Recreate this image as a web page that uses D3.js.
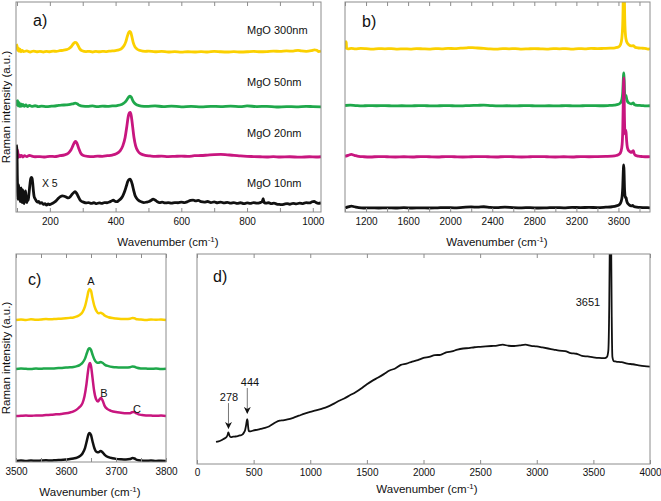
<!DOCTYPE html>
<html><head><meta charset="utf-8">
<script src="https://cdn.jsdelivr.net/npm/d3@7/dist/d3.min.js"></script>
<style>
body{margin:0;background:#fff}
svg{display:block}
text{font-family:Helvetica,Arial,"Liberation Sans",sans-serif;fill:#111}
</style>
</head><body>
<svg id="fig" width="661" height="501"></svg>
<script>
// ---------------- DATA ----------------
const sampleNames = ["MgO 300nm", "MgO 50nm", "MgO 20nm", "MgO 10nm"];
const sampleColors = ["#fbd000", "#1fa84b", "#c8167f", "#111111"];

// panel a: low-wavenumber spectra (cm-1, intensity a.u. above each trace's baseline)
const offsetsA = [7.6, 5.0, 2.6, 0.35];
const a300 = [[98,0.4],[100,0.3],[102,0.1],[104,0.22],[106,0.05],[109,0.15],[112,0.03],[116,0.1],[120,0.04],[130,0.07],[140,0.02],[150,0.06],[160,0.03],[170,0.05],[180,0.02],[190,0.05],[200,0.03],[210,0.06],[220,0.05],[230,0.08],[240,0.1],[250,0.13],[258,0.18],[265,0.27],[271,0.4],[276,0.48],[280,0.47],[285,0.35],[291,0.17],[298,0.08],[310,0.04],[320,0.05],[330,0.02],[340,0.05],[350,0.03],[360,0.05],[370,0.04],[380,0.06],[390,0.07],[400,0.09],[410,0.12],[418,0.18],[425,0.3],[431,0.5],[436,0.78],[440,0.95],[443,1.0],[446,0.95],[450,0.72],[454,0.45],[459,0.26],[466,0.15],[475,0.09],[490,0.05],[500,0.06],[520,0.03],[540,0.05],[560,0.02],[580,0.04],[600,0.01],[620,0.03],[640,0.02],[660,0.04],[680,0.02],[700,0.05],[720,0.03],[740,0.02],[760,0.04],[780,0.02],[800,0.03],[820,0.05],[840,0.03],[860,0.04],[880,0.06],[900,0.05],[920,0.07],[940,0.06],[955,0.1],[965,0.07],[980,0.05],[995,0.08],[1005,0.12],[1012,0.1],[1018,0.04],[1025,0.06]];
const a50 = [[98,0.35],[100,0.1],[102,0.3],[104,0.05],[106,0.22],[109,0.02],[112,0.15],[115,0.04],[118,0.12],[122,0.03],[127,0.1],[132,0.02],[138,0.08],[145,0.03],[155,0.06],[165,0.02],[175,0.04],[190,0.02],[205,0.04],[220,0.06],[235,0.09],[250,0.1],[262,0.12],[270,0.15],[277,0.18],[283,0.15],[290,0.08],[300,0.04],[315,0.03],[330,0.05],[345,0.02],[360,0.04],[375,0.03],[390,0.05],[405,0.07],[418,0.12],[428,0.22],[435,0.36],[440,0.48],[444,0.52],[448,0.46],[452,0.32],[458,0.18],[466,0.09],[478,0.04],[495,0.03],[520,0.05],[545,0.02],[570,0.04],[600,0.01],[630,0.03],[660,0.01],[690,0.03],[720,0.02],[750,0.04],[780,0.02],[800,0.05],[830,0.02],[860,0.03],[890,0.0],[920,0.02],[950,0.01],[980,0.03],[1000,0.02],[1025,0.01]];
const a20 = [[98,0.05],[100,0.25],[102,0.35],[104,0.0],[107,0.12],[110,0.03],[114,0.1],[118,0.02],[123,0.08],[130,0.04],[138,0.1],[145,0.06],[155,0.03],[170,0.04],[185,0.02],[200,0.05],[215,0.04],[230,0.08],[245,0.12],[256,0.2],[264,0.35],[270,0.55],[275,0.72],[279,0.76],[283,0.65],[288,0.42],[294,0.2],[302,0.09],[315,0.05],[330,0.04],[345,0.06],[360,0.05],[375,0.08],[390,0.11],[402,0.17],[413,0.3],[422,0.55],[429,0.95],[434,1.45],[438,1.9],[442,2.12],[445,2.14],[448,1.95],[452,1.45],[456,0.95],[461,0.55],[468,0.3],[478,0.16],[490,0.1],[505,0.07],[520,0.05],[540,0.06],[560,0.04],[580,0.05],[600,0.06],[620,0.05],[640,0.08],[660,0.09],[680,0.11],[700,0.13],[720,0.14],[740,0.12],[760,0.1],[780,0.07],[800,0.05],[820,0.04],[840,0.03],[860,0.02],[880,0.04],[900,0.02],[930,0.03],[960,0.01],[990,0.03],[1010,0.02],[1025,0.03]];
const a10 = [[98,2.85],[100,2.5],[101,1.4],[102,0.6],[103,0.25],[104,0.7],[105,0.95],[106,0.5],[108,0.8],[109,0.3],[110,0.15],[112,0.6],[113,0.8],[114,0.25],[116,0.1],[117,0.55],[118,0.7],[120,0.2],[122,0.05],[124,0.4],[126,0.65],[128,0.3],[130,0.1],[132,0.35],[134,0.2],[136,0.45],[138,0.75],[140,1.05],[142,1.25],[144,1.3],[146,1.25],[148,1.0],[150,0.65],[152,0.4],[155,0.28],[158,0.2],[162,0.12],[166,0.15],[170,0.06],[175,0.1],[180,0.02],[185,0.05],[190,-0.02],[195,0.03],[200,0.0],[205,0.04],[210,0.08],[215,0.13],[220,0.2],[226,0.3],[232,0.38],[238,0.42],[244,0.4],[250,0.36],[256,0.32],[262,0.38],[268,0.5],[273,0.58],[277,0.62],[281,0.55],[286,0.4],[291,0.25],[296,0.16],[302,0.12],[310,0.08],[318,0.1],[326,0.06],[334,0.09],[342,0.05],[350,0.08],[358,0.06],[366,0.1],[374,0.09],[382,0.13],[388,0.18],[393,0.22],[398,0.16],[404,0.14],[410,0.2],[416,0.28],[422,0.42],[428,0.65],[433,0.9],[437,1.1],[441,1.2],[444,1.22],[447,1.15],[451,0.95],[455,0.68],[459,0.45],[464,0.3],[470,0.2],[478,0.14],[486,0.1],[494,0.12],[502,0.15],[508,0.2],[514,0.26],[520,0.22],[526,0.15],[534,0.1],[542,0.12],[550,0.08],[560,0.1],[570,0.07],[580,0.1],[590,0.09],[600,0.12],[610,0.1],[620,0.15],[628,0.2],[636,0.22],[644,0.18],[652,0.2],[660,0.14],[670,0.12],[680,0.15],[690,0.1],[700,0.13],[710,0.09],[720,0.12],[730,0.08],[740,0.11],[750,0.07],[760,0.1],[770,0.06],[780,0.09],[790,0.05],[800,0.08],[810,0.06],[820,0.1],[830,0.07],[840,0.1],[846,0.14],[849,0.28],[852,0.1],[858,0.07],[866,0.09],[874,0.05],[882,0.07],[890,0.03],[898,0.01],[906,0.0],[914,0.03],[922,0.05],[930,0.02],[940,0.06],[950,0.04],[960,0.07],[970,0.05],[980,0.1],[990,0.08],[998,0.14],[1004,0.16],[1010,0.1],[1016,0.06],[1025,0.08]];

// panel b: full range spectra
const offsetsB = [7.76, 5.05, 2.62, 0.19];
const b300 = [[1000,0.02],[1006,0.05],[1009,0.35],[1012,0.3],[1015,0.04],[1030,0.01],[1060,0.03],[1100,0.01],[1150,0.03],[1200,0.02],[1260,0.0],[1320,0.02],[1380,0.01],[1440,0.02],[1500,0.0],[1560,0.01],[1620,0.0],[1680,0.02],[1740,0.01],[1800,0.0],[1860,0.02],[1920,0.01],[1980,0.03],[2040,0.02],[2100,0.04],[2160,0.06],[2210,0.07],[2260,0.05],[2320,0.03],[2380,0.01],[2440,0.0],[2500,0.02],[2560,0.01],[2620,0.02],[2680,0.0],[2740,0.01],[2800,0.02],[2860,0.01],[2920,0.0],[2980,0.02],[3040,0.01],[3100,0.02],[3160,0.0],[3220,0.02],[3280,0.01],[3340,0.03],[3400,0.02],[3460,0.03],[3520,0.04],[3570,0.06],[3600,0.1],[3620,0.22],[3632,0.5],[3640,1.1],[3645,2.3],[3648,5],[3651,8],[3654,5],[3657,2.4],[3662,1.1],[3668,0.6],[3675,0.4],[3685,0.28],[3700,0.2],[3720,0.15],[3740,0.16],[3760,0.08],[3790,0.05],[3820,0.04],[3850,0.03],[3880,0.0],[3900,0.03]];
const b50 = [[1000,0.02],[1050,0.04],[1100,0.02],[1160,0.0],[1220,0.02],[1300,0.01],[1380,0.02],[1460,0.0],[1540,0.01],[1620,0.0],[1700,0.02],[1780,0.01],[1860,0.0],[1940,0.02],[2020,0.01],[2100,0.0],[2180,0.02],[2260,0.03],[2320,0.04],[2380,0.02],[2460,0.0],[2540,0.01],[2620,0.0],[2700,0.02],[2780,0.01],[2860,0.0],[2940,0.01],[3020,0.0],[3100,0.02],[3180,0.0],[3260,0.01],[3340,0.02],[3420,0.01],[3500,0.02],[3560,0.04],[3600,0.08],[3620,0.15],[3632,0.3],[3640,0.6],[3645,1.1],[3648,1.45],[3651,1.57],[3654,1.25],[3658,0.7],[3663,0.45],[3668,0.48],[3672,0.5],[3677,0.35],[3688,0.2],[3700,0.14],[3720,0.1],[3735,0.13],[3742,0.14],[3750,0.07],[3780,0.03],[3820,0.02],[3860,0.0],[3900,0.01]];
const b20 = [[1000,0.03],[1030,0.08],[1060,0.12],[1090,0.08],[1130,0.03],[1180,0.01],[1240,0.0],[1320,0.02],[1400,0.01],[1480,0.0],[1560,0.01],[1640,0.0],[1720,0.02],[1800,0.01],[1880,0.0],[1960,0.02],[2040,0.01],[2120,0.0],[2200,0.01],[2280,0.02],[2360,0.01],[2440,0.0],[2520,0.02],[2600,0.01],[2680,0.0],[2760,0.01],[2840,0.02],[2920,0.01],[3000,0.0],[3080,0.01],[3160,0.0],[3240,0.02],[3320,0.01],[3400,0.02],[3480,0.03],[3540,0.04],[3580,0.07],[3610,0.14],[3625,0.28],[3635,0.6],[3641,1.3],[3645,2.4],[3648,3.4],[3651,3.76],[3654,3.0],[3657,1.9],[3661,1.2],[3665,1.1],[3669,1.28],[3673,1.15],[3678,0.75],[3685,0.45],[3695,0.32],[3710,0.25],[3725,0.22],[3735,0.28],[3742,0.3],[3748,0.18],[3760,0.08],[3790,0.04],[3830,0.02],[3870,0.01],[3900,0.02]];
const b10 = [[1000,0.0],[1030,0.05],[1060,0.09],[1090,0.06],[1130,0.02],[1180,0.0],[1240,0.01],[1320,0.0],[1400,0.01],[1480,0.0],[1560,0.02],[1640,0.0],[1720,0.01],[1800,0.0],[1880,0.01],[1960,0.02],[2040,0.01],[2120,0.03],[2200,0.05],[2260,0.04],[2320,0.06],[2380,0.03],[2440,0.02],[2520,0.04],[2600,0.02],[2680,0.01],[2760,0.02],[2840,0.0],[2920,0.01],[3000,0.02],[3080,0.01],[3160,0.03],[3240,0.02],[3320,0.03],[3400,0.02],[3480,0.04],[3540,0.06],[3580,0.1],[3610,0.17],[3625,0.3],[3635,0.55],[3641,1.0],[3645,1.6],[3648,1.95],[3651,2.05],[3654,1.6],[3657,1.0],[3661,0.65],[3665,0.5],[3669,0.52],[3673,0.48],[3678,0.35],[3688,0.22],[3700,0.16],[3720,0.1],[3735,0.12],[3745,0.08],[3760,0.05],[3800,0.03],[3850,0.02],[3900,0.01]];

// panel c: OH stretching region
const offsetsC = [6.83, 4.47, 2.21, 0.05];
const c300 = [[3500,0.0],[3510,0.02],[3520,0.0],[3530,0.03],[3540,0.01],[3550,0.02],[3560,0.04],[3570,0.03],[3580,0.05],[3590,0.06],[3600,0.08],[3608,0.1],[3615,0.12],[3622,0.17],[3628,0.25],[3633,0.38],[3638,0.65],[3642,1.05],[3645,1.38],[3647,1.49],[3650,1.4],[3653,1.05],[3657,0.65],[3661,0.42],[3665,0.32],[3669,0.34],[3673,0.3],[3678,0.2],[3685,0.13],[3693,0.09],[3700,0.07],[3710,0.05],[3720,0.04],[3728,0.06],[3733,0.09],[3737,0.08],[3742,0.03],[3750,0.02],[3760,0.0],[3770,0.02],[3780,0.01],[3790,0.02],[3800,0.0]];
const c50 = [[3500,0.0],[3510,0.02],[3520,0.01],[3530,0.0],[3540,0.02],[3550,0.01],[3560,0.03],[3570,0.02],[3580,0.04],[3590,0.05],[3600,0.07],[3608,0.08],[3615,0.1],[3622,0.14],[3628,0.2],[3633,0.3],[3638,0.5],[3642,0.78],[3645,0.96],[3647,1.0],[3650,0.92],[3653,0.7],[3657,0.45],[3661,0.32],[3665,0.3],[3669,0.34],[3673,0.3],[3678,0.2],[3685,0.14],[3693,0.1],[3700,0.08],[3710,0.07],[3720,0.07],[3728,0.09],[3733,0.12],[3737,0.11],[3742,0.06],[3750,0.03],[3760,0.02],[3770,0.01],[3780,0.02],[3790,0.0],[3800,0.01]];
const c20 = [[3500,0.0],[3510,0.01],[3520,0.02],[3530,0.01],[3540,0.03],[3550,0.03],[3560,0.05],[3570,0.06],[3580,0.08],[3590,0.1],[3600,0.13],[3608,0.17],[3615,0.22],[3622,0.32],[3628,0.45],[3633,0.62],[3637,0.95],[3641,1.55],[3644,2.15],[3646,2.45],[3648,2.55],[3650,2.4],[3653,1.85],[3656,1.25],[3660,0.82],[3664,0.7],[3667,0.8],[3670,0.87],[3673,0.76],[3677,0.5],[3683,0.33],[3690,0.25],[3700,0.19],[3710,0.16],[3720,0.13],[3727,0.13],[3732,0.18],[3736,0.19],[3740,0.14],[3745,0.08],[3752,0.05],[3760,0.03],[3770,0.02],[3780,0.01],[3790,0.02],[3800,0.0]];
const c10 = [[3500,0.0],[3510,0.02],[3520,0.0],[3530,0.02],[3540,0.01],[3550,0.02],[3560,0.03],[3570,0.02],[3580,0.04],[3590,0.05],[3600,0.07],[3608,0.09],[3615,0.12],[3622,0.16],[3628,0.24],[3633,0.36],[3638,0.62],[3642,1.0],[3645,1.28],[3647,1.35],[3650,1.25],[3653,0.95],[3657,0.6],[3661,0.44],[3665,0.42],[3669,0.48],[3673,0.42],[3678,0.28],[3685,0.18],[3693,0.13],[3700,0.1],[3710,0.08],[3720,0.07],[3728,0.09],[3733,0.14],[3737,0.12],[3742,0.05],[3750,0.02],[3760,0.01],[3770,0.02],[3780,0.0],[3790,0.01],[3800,0.0]];

// panel d: single full-range spectrum (absolute a.u.)
const dSpectrum = [[168,1.05],[190,1.08],[210,1.12],[230,1.18],[250,1.24],[262,1.3],[270,1.38],[276,1.5],[280,1.47],[285,1.38],[292,1.3],[300,1.28],[320,1.3],[340,1.31],[360,1.33],[380,1.36],[400,1.4],[415,1.5],[425,1.62],[432,1.8],[438,2.0],[443,2.14],[447,2.05],[451,1.8],[456,1.6],[462,1.55],[480,1.56],[500,1.6],[530,1.63],[560,1.67],[600,1.72],[640,1.8],[670,1.9],[700,2.0],[730,2.06],[760,2.08],[800,2.12],[850,2.2],[900,2.3],[950,2.4],[1000,2.48],[1050,2.55],[1100,2.63],[1150,2.72],[1200,2.85],[1250,3.0],[1300,3.12],[1350,3.27],[1400,3.42],[1450,3.6],[1500,3.8],[1550,3.97],[1600,4.12],[1650,4.28],[1700,4.45],[1750,4.55],[1800,4.72],[1850,4.78],[1900,4.88],[1950,4.95],[2000,5.05],[2050,5.1],[2100,5.18],[2150,5.2],[2200,5.32],[2250,5.36],[2300,5.45],[2350,5.5],[2400,5.52],[2450,5.56],[2500,5.58],[2550,5.6],[2600,5.62],[2650,5.64],[2700,5.68],[2750,5.63],[2800,5.62],[2850,5.65],[2900,5.68],[2950,5.63],[3000,5.6],[3050,5.55],[3100,5.5],[3150,5.45],[3200,5.4],[3250,5.38],[3300,5.28],[3350,5.25],[3400,5.15],[3450,5.12],[3500,5.08],[3550,5.05],[3600,5.04],[3620,5.1],[3632,5.4],[3640,7.5],[3645,10.5],[3651,11.5],[3657,10.5],[3662,7.0],[3668,5.1],[3680,4.9],[3700,4.88],[3750,4.85],[3800,4.78],[3850,4.75],[3900,4.7],[3950,4.66],[4000,4.64]];

const ticksA = [200, 400, 600, 800, 1000], minorA = d3.range(100, 1001, 100);
const ticksB = [1200, 1600, 2000, 2400, 2800, 3200, 3600], minorB = d3.range(1000, 3901, 200);
const ticksC = [3500, 3600, 3700, 3800], minorC = d3.range(3500, 3801, 50);
const ticksD = d3.range(0, 4001, 500);

// ---------------- DRAW ----------------
const svg = d3.select("#fig");
const frameColor = "#8c8c8c";
let clipId = 0;

function makePanel(box, xDomain, yDomain, minor, major, tickPad) {
  const x = d3.scaleLinear().domain(xDomain).range([box.l, box.r]);
  const y = d3.scaleLinear().domain(yDomain).range([box.b, box.t]);
  const id = "clip" + (clipId++);
  svg.append("clipPath").attr("id", id).append("rect")
    .attr("x", box.l).attr("y", box.t).attr("width", box.r - box.l).attr("height", box.b - box.t);
  const g = svg.append("g");
  const plot = g.append("g").attr("clip-path", `url(#${id})`);
  const bottom = g.append("g").attr("transform", `translate(0,${box.b})`)
    .call(d3.axisBottom(x).tickValues(minor).tickSize(-4).tickPadding(tickPad)
      .tickFormat(d => major.includes(d) ? d : ""));
  const top = g.append("g").attr("transform", `translate(0,${box.t})`)
    .call(d3.axisTop(x).tickValues(minor).tickSize(-4).tickFormat(""));
  [bottom, top].forEach(a => {
    a.select(".domain").remove();
    a.selectAll(".tick line").attr("stroke", frameColor);
    a.selectAll(".tick text").attr("font-size", 10).attr("fill", "#222")
      .style("font-family", "Helvetica, Arial, 'Liberation Sans', sans-serif");
  });
  g.append("rect").attr("x", box.l).attr("y", box.t)
    .attr("width", box.r - box.l).attr("height", box.b - box.t)
    .attr("fill", "none").attr("stroke", frameColor).attr("stroke-width", 1);
  return {x, y, plot, g};
}

function drawTrace(p, data, offset, color, width) {
  const line = d3.line().x(d => p.x(d[0])).y(d => p.y(d[1] + offset)).curve(d3.curveMonotoneX);
  p.plot.append("path").datum(data).attr("d", line)
    .attr("fill", "none").attr("stroke", color).attr("stroke-width", width)
    .attr("stroke-linejoin", "round");
}

function xTitle(cx, cy) {
  const t = svg.append("text").attr("x", cx).attr("y", cy).attr("text-anchor", "middle").attr("font-size", 11.5);
  t.append("tspan").text("Wavenumber (cm");
  t.append("tspan").attr("dy", -4.5).attr("font-size", 8).text("-1");
  t.append("tspan").attr("dy", 4.5).text(")");
}
function yTitle(cx, cy) {
  svg.append("text").attr("transform", `translate(${cx},${cy}) rotate(-90)`)
    .attr("text-anchor", "middle").attr("font-size", 11.5).text("Raman intensity (a.u.)");
}
function label(txt, x, y, size, anchor) {
  svg.append("text").attr("x", x).attr("y", y).attr("font-size", size)
    .attr("text-anchor", anchor || "start").text(txt);
}

// Panel a
const pa = makePanel({l:16, r:321, t:2, b:212}, [97, 1025], [0, 10], minorA, ticksA, 6);
[a300, a50, a20, a10].forEach((s, i) => drawTrace(pa, s, offsetsA[i], sampleColors[i], 2.8));
sampleNames.forEach((n, i) => label(n, pa.x(800), pa.y([8.48, 6.0, 3.57, 1.19][i]), 11));
label("X 5", pa.x(176), pa.y(1.19), 10.5);
label("a)", 33, 26, 16);
xTitle(168, 246);
yTitle(10, 107);

// Panel b
const pb = makePanel({l:345, r:650, t:2, b:212}, [1000, 3900], [0, 10], minorB, ticksB, 6);
[b300, b50, b20, b10].forEach((s, i) => drawTrace(pb, s, offsetsB[i], sampleColors[i], 2.8));
label("b)", 362, 27, 16);
xTitle(497, 246);

// Panel c
const pc = makePanel({l:16, r:166, t:254, b:462}, [3500, 3800], [0, 10], minorC, ticksC, 6);
[c300, c50, c20, c10].forEach((s, i) => drawTrace(pc, s, offsetsC[i], sampleColors[i], 2.5));
label("A", pc.x(3650), pc.y(8.51), 11, "middle");
label("B", pc.x(3676), pc.y(3.13), 11, "middle");
label("C", pc.x(3742), pc.y(2.36), 11, "middle");
label("c)", 28, 285, 16);
xTitle(90, 496);
yTitle(10, 358);

// Panel d
const pd = makePanel({l:197, r:650, t:254, b:464}, [0, 4000], [0, 10], ticksD, ticksD, 5);
drawTrace(pd, dSpectrum, 0, "#111", 1.8);
label("d)", 213, 282, 16);
label("278", pd.x(283), pd.y(3.0), 11, "middle");
label("444", pd.x(468), pd.y(3.71), 11, "middle");
label("3651", pd.x(3452), pd.y(7.52), 11, "middle");
const defs = svg.append("defs");
defs.append("marker").attr("id", "arrowHead").attr("viewBox", "0 0 10 10")
  .attr("refX", 9).attr("refY", 5).attr("markerWidth", 7).attr("markerHeight", 7)
  .attr("markerUnits", "userSpaceOnUse").attr("orient", "auto")
  .append("path").attr("d", "M0,0 L10,5 L0,10 L3,5 Z").attr("fill", "#111");
[[278, 2.9, 1.7], [444, 3.62, 2.42]].forEach(([w, y0, y1]) => {
  svg.append("line").attr("x1", pd.x(w)).attr("x2", pd.x(w))
    .attr("y1", pd.y(y0)).attr("y2", pd.y(y1))
    .attr("stroke", "#777").attr("stroke-width", 1).attr("marker-end", "url(#arrowHead)");
});
xTitle(427, 493);
</script>
</body></html>
